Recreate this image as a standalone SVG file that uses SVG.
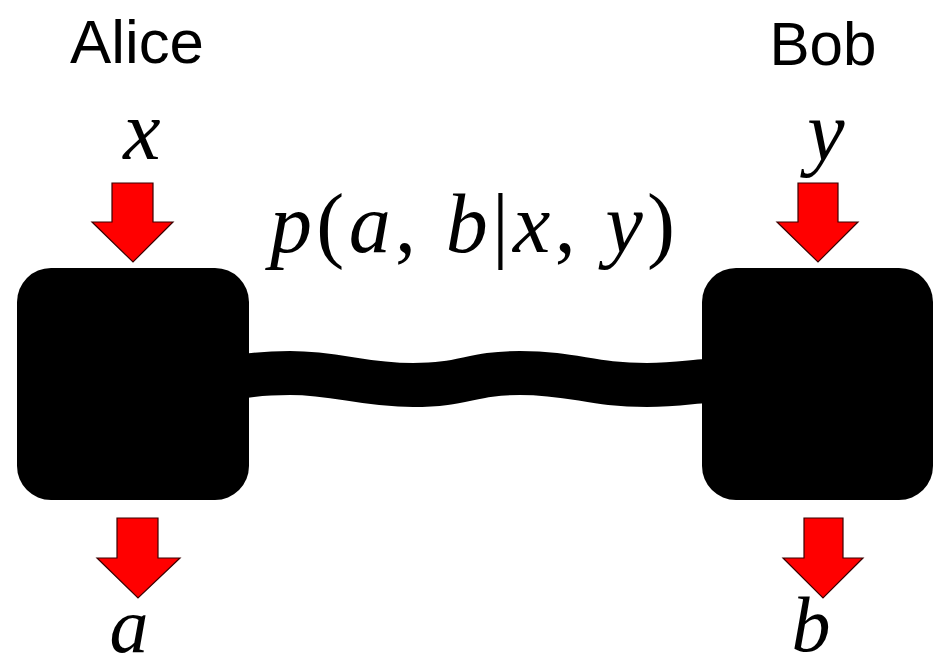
<svg xmlns="http://www.w3.org/2000/svg" width="933" height="669" viewBox="0 0 933 669">
<style>
.box{fill:#000}
.arrow{fill:#ff0000;stroke:#3a0000;stroke-width:1.2;stroke-linejoin:miter}
.name{font-family:"Liberation Sans","Open Sans",sans-serif;font-size:62px;fill:#000}
.math{font-family:"Liberation Serif","DejaVu Serif",serif;font-style:italic;font-size:84px;fill:#000}
.small{font-size:78px}
.up{font-style:normal}
.wire{fill:none;stroke:#000;stroke-width:44}
</style>
<rect width="933" height="669" fill="#fff"/>
<g id="connectors">
<path class="wire" d="M245,376 C265,373 275,373 290,373 C340,373 360,385 413,385 C465,385 470,373 520,373 C575,373 590,385 647,385 C675,385 690,382 706,381"/>
</g>
<g id="alice">
<rect class="box" x="17" y="268" width="232" height="232" rx="34" ry="34"/>
<text class="name" x="137" y="63" text-anchor="middle" textLength="134" lengthAdjust="spacingAndGlyphs">Alice</text>
</g>
<g id="bob">
<rect class="box" x="702" y="268" width="231" height="232" rx="34" ry="34"/>
<text class="name" x="823" y="65" text-anchor="middle" textLength="107" lengthAdjust="spacingAndGlyphs">Bob</text>
</g>
<g id="input-x">
<text class="math" x="142" y="159" text-anchor="middle">x</text>
<polygon class="arrow" points="112,183 153,183 153,222 173,222 133,262 92,222 112,222"/>
</g>
<g id="input-y">
<text class="math" x="826" y="160" text-anchor="middle">y</text>
<polygon class="arrow" points="798,183 838,183 838,222 858,222 818,262 777,222 798,222"/>
</g>
<g id="output-a">
<polygon class="arrow" points="117,518 158,518 158,558 180,558 138,598 97,558 117,558"/>
<text class="math small" x="129" y="652" text-anchor="middle">a</text>
</g>
<g id="output-b">
<polygon class="arrow" points="804,518 843,518 843,558 863,558 823,598 783,558 804,558"/>
<text class="math small" x="811" y="651" text-anchor="middle">b</text>
</g>
<g id="label">
<text class="math" x="270" y="252" textLength="405" lengthAdjust="spacing">p<tspan class="up">(</tspan>a<tspan class="up">, </tspan>b<tspan class="up">|</tspan>x<tspan class="up">, </tspan>y<tspan class="up">)</tspan></text>
</g>
</svg>
